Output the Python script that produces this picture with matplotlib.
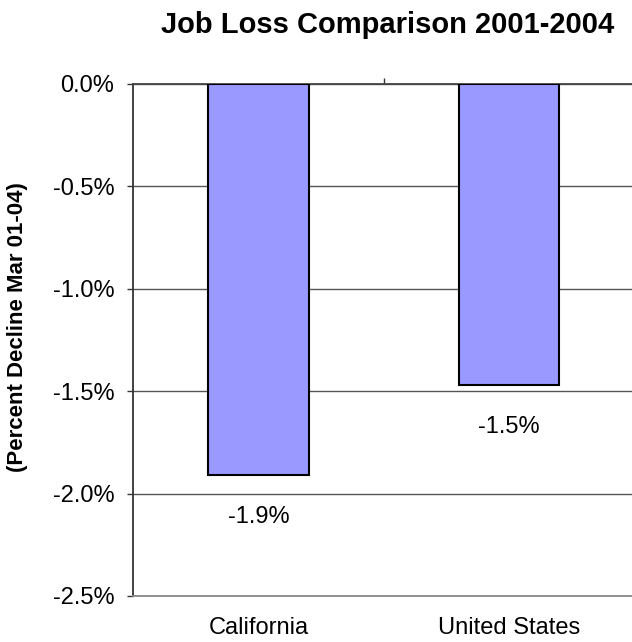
import matplotlib
matplotlib.use("Agg")
import matplotlib.pyplot as plt
from matplotlib.ticker import FuncFormatter

# данные
regions = ["California", "United States"]
decline = [-1.91, -1.47]
bar_labels = ["-1.9%", "-1.5%"]
y_ticks = [0.0, -0.5, -1.0, -1.5, -2.0, -2.5]

plt.rcParams["font.family"] = ["Liberation Sans", "DejaVu Sans"]

fig = plt.figure(figsize=(6.32, 6.42), dpi=100)
ax = fig.add_axes([133 / 632, 46 / 642, 501.5 / 632, 512 / 642])

x = range(len(regions))
bars = ax.bar(x, decline, width=0.4, color="#9999FF", edgecolor="black", linewidth=1.5, zorder=3)

ax.set_xlim(-0.5, 1.5)
ax.set_ylim(-2.5, 0)
ax.set_yticks(y_ticks)
ax.yaxis.set_major_formatter(FuncFormatter(lambda v, p: "%.1f%%" % v))
ax.tick_params(axis="y", direction="out", length=4.5, width=1, color="#333333", pad=9, labelsize=17)

# подписи категорий снизу, засечка между столбцами сверху
ax.set_xticks(list(x))
ax.set_xticklabels(regions)
ax.tick_params(axis="x", which="major", length=0, pad=15, labelsize=17)
ax.set_xticks([0.5], minor=True)
ax.tick_params(axis="x", which="minor", top=True, bottom=False, direction="out", length=4, width=1, color="#333333")

ax.grid(axis="y", color="#555555", linewidth=1, zorder=0)
ax.spines["right"].set_visible(False)
ax.spines["top"].set_color("#444444")
ax.spines["top"].set_linewidth(1.3)
ax.spines["left"].set_color("#333333")
ax.spines["left"].set_linewidth(1.3)
ax.spines["bottom"].set_color("#888888")
ax.spines["bottom"].set_linewidth(1.3)

for b, lab in zip(bars, bar_labels):
    ax.annotate(lab, (b.get_x() + b.get_width() / 2, b.get_height()),
                xytext=(0, -22), textcoords="offset points",
                ha="center", va="top", fontsize=17)

fig.text(388 / 632, 1 - 25 / 642, "Job Loss Comparison 2001-2004",
         ha="center", va="center", fontsize=21, fontweight="bold")
fig.text(18 / 632, 1 - 327 / 642, "(Percent Decline Mar 01-04)",
         ha="center", va="center", rotation=90, fontsize=16, fontweight="bold")

plt.savefig("out.png", dpi=100)
